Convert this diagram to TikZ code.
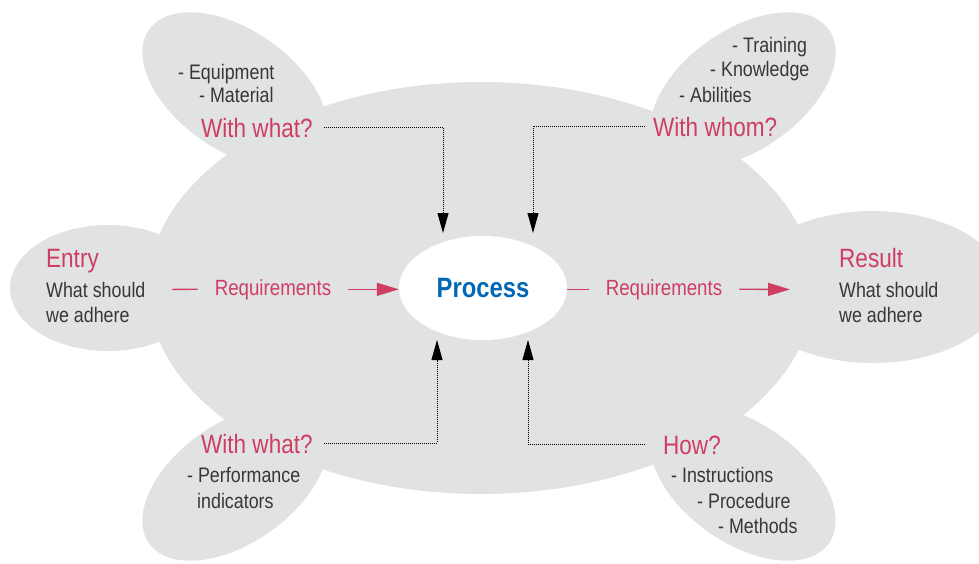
\documentclass[tikz,border=0pt]{standalone}
\usepackage{fontspec}
\setmainfont[FakeStretch=0.85]{Liberation Sans}
\usetikzlibrary{arrows.meta, shapes.geometric}
\definecolor{blobgray}{RGB}{225,226,228}
\definecolor{askpink}{RGB}{207,62,98}
\definecolor{procblue}{RGB}{0,104,180}
\definecolor{bodygray}{RGB}{55,55,55}

\begin{document}
\begin{tikzpicture}
        [
            x=1pt, y=-1pt,
            blob/.style={fill=blobgray},
            ask/.style={anchor=base west, inner sep=0pt, text=askpink, font=\fontsize{26.5}{28}\selectfont},
            item/.style={anchor=base west, inner sep=0pt, text=bodygray, font=\fontsize{21}{23}\selectfont},
            req/.style={anchor=base, inner xsep=17pt, inner ysep=0pt, text=askpink, font=\fontsize{22}{24}\selectfont},
            proc/.style={ellipse, fill=white, minimum width=168pt, minimum height=104pt, text=procblue, font=\fontsize{28}{30}\selectfont\bfseries},
            reqline/.style={askpink, line width=1.3pt},
            reqarrow/.style={reqline, -{Triangle[length=22pt,width=13pt]}},
            dotarrow/.style={black, line width=0.9pt, dash pattern=on 0.9pt off 1.1pt, -{Triangle[length=20pt,width=11pt]}},
        ]
        \useasboundingbox (0,0) rectangle (979,563);
        \clip (0,0) rectangle (979,563);

        % grey background
        \fill[blob] (481,288) ellipse [x radius=333pt, y radius=206pt];
        \fill[blob] (108,288) ellipse [x radius=98pt, y radius=63pt];
        \fill[blob] (873,287) ellipse [x radius=131pt, y radius=76pt];
        \fill[blob, rotate around={-35:(235,90)}] (235,90) ellipse [x radius=105pt, y radius=60pt];
        \fill[blob, rotate around={35:(743,90)}] (743,90) ellipse [x radius=105pt, y radius=60pt];
        \fill[blob, rotate around={35:(235,483)}] (235,483) ellipse [x radius=105pt, y radius=60pt];
        \fill[blob, rotate around={-35:(743,483)}] (743,483) ellipse [x radius=105pt, y radius=60pt];

        \node[proc] (proc) at (483,288) {Process};

        \node[item] (equip) at (178,79) {- Equipment};
        \node[item] (mater) at (199,102) {- Material};
        \node[ask] (wwhat) at (201,137) {With what?};

        \node[item] (train) at (732,52) {- Training};
        \node[item] (know) at (710,76) {- Knowledge};
        \node[item] (abil) at (679,102) {- Abilities};
        \node[ask] (wwhom) at (653,136) {With whom?};

        \node[ask] (entry) at (46,267) {Entry};
        \node[item] (what1) at (46,297) {What should};
        \node[item] (adh1) at (46,322) {we adhere};

        \node[ask] (result) at (839,267) {Result};
        \node[item] (what2) at (839,297) {What should};
        \node[item] (adh2) at (839,322) {we adhere};

        \node[ask] (wwhat2) at (201,453) {With what?};
        \node[item] (perf) at (187,482) {- Performance};
        \node[item] (indic) at (197,508) {indicators};

        \node[ask] (how) at (663,454) {How?};
        \node[item] (instr) at (671,482) {- Instructions};
        \node[item] (proced) at (697,508) {- Procedure};
        \node[item] (meth) at (718,533) {- Methods};

        \node[req] (req1) at (273,295) {Requirements};
        \node[req] (req2) at (664,295) {Requirements};

        \coordinate (lstart) at (172,289.4);
        \coordinate (rtip) at (790,289.4);
        \coordinate (tip1) at (443,233);
        \coordinate (tip2) at (533,233);
        \coordinate (tip3) at (437,340);
        \coordinate (tip4) at (528,340);

        \draw[reqline] (lstart) -- (req1.west);
        \draw[reqarrow] (req1.east) -- (req1.east -| proc.west);
        \draw[reqline] (proc.east |- req2.west) -- (req2.west);
        \draw[reqarrow] (req2.east) -- (rtip);

        \draw[dotarrow] ([shift={(11,-10)}]wwhat.base east) -| (tip1);
        \draw[dotarrow] ([shift={(-8,-10)}]wwhom.base west) -| (tip2);
        \draw[dotarrow] ([shift={(11,-10)}]wwhat2.base east) -| (tip3);
        \draw[dotarrow] ([shift={(-18,-10)}]how.base west) -| (tip4);
    \end{tikzpicture}
\end{document}
